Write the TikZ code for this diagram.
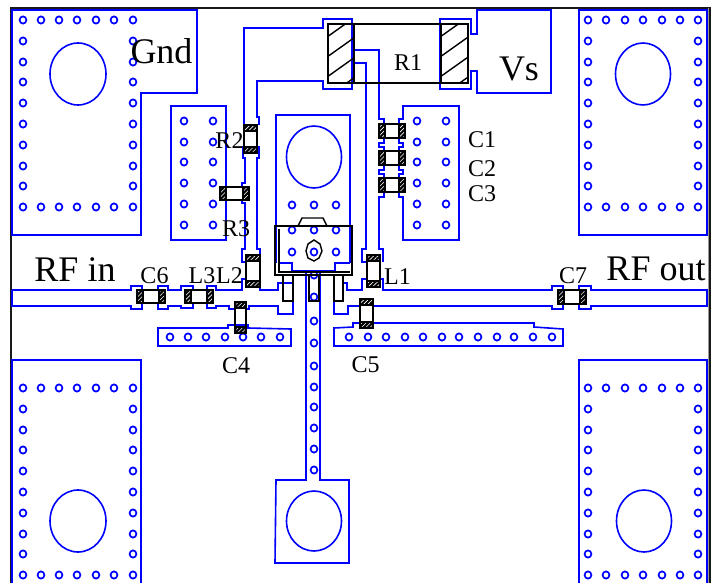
\documentclass[tikz,border=0pt]{standalone}
\usepackage{fontspec}
\setmainfont{Liberation Serif}
\usetikzlibrary{patterns.meta}
\definecolor{trace}{RGB}{0,0,255}
\tikzset{
  tr/.style={draw=trace,line width=1.6pt,line join=miter},
  via/.style={draw=trace,line width=1.7pt},
  part/.style={draw=black,line width=1.4pt},
  bigl/.style={anchor=base,inner sep=0pt,font=\fontsize{36}{36}\selectfont,text=black},
  smalll/.style={anchor=base,inner sep=0pt,font=\fontsize{24}{24}\selectfont,text=black},
}
\newcommand{\viaat}[2]{\draw[via] (#1,#2) ellipse [x radius=3.4,y radius=3.6];}
\newcommand{\hend}[4]{%
  \fill[black] (#1,#2) rectangle (#3,#4);
  \fill[pattern={Lines[angle=45,distance=3pt,line width=0.6pt]},pattern color=white] (#1,#2) rectangle (#3,#4);
  \draw[part] (#1,#2) rectangle (#3,#4);}
\newcommand{\capH}[4]{% horizontal chip, ends 6px
  \draw[part] (#1,#2) rectangle (#3,#4);
  \hend{#1}{#2}{\fpeval{#1+6}}{#4}
  \hend{\fpeval{#3-6}}{#2}{#3}{#4}}
\newcommand{\capV}[4]{% vertical chip, ends 6px
  \draw[part] (#1,#2) rectangle (#3,#4);
  \hend{#1}{#2}{#3}{\fpeval{#2+6}}
  \hend{#1}{\fpeval{#4-6}}{#3}{#4}}
\newcommand{\padvias}[3]{%
  \foreach \vx in {#1} {\viaat{\vx}{#2}\viaat{\vx}{#3}}}
\begin{document}
\begin{tikzpicture}[x=1pt,y=-1pt]
\useasboundingbox (0,0) rectangle (722,583);
% frame
\draw[black!90,line width=1.5pt] (11,583) -- (11,8) -- (710,8) -- (710,583);
\draw[black!40,line width=0.8pt] (708,8) -- (708,583);

% ---- corner pads
\draw[tr] (12,10) -- (197,10) -- (197,93) -- (141,93) -- (141,235) -- (12,235) -- cycle;
\draw[tr] (579,10) rectangle (707,235);
\draw[tr] (12,583) -- (12,360) -- (141,360) -- (141,583);
\draw[tr] (579,583) -- (579,360) -- (707,360) -- (707,583);
\draw[tr] (78,74) ellipse [x radius=28,y radius=31];
\draw[tr] (643,74) ellipse [x radius=27.5,y radius=31];
\draw[tr] (78,521) ellipse [x radius=28,y radius=31];
\draw[tr] (644,521) ellipse [x radius=27.5,y radius=31];
% corner pad vias
\padvias{23,41,59,77,96,114,133}{20}{207}
\padvias{588,606,625,643,662,680,698}{20}{207}
\padvias{23,41,59,77,96,114,133}{388}{575}
\padvias{588,606,625,643,662,680,698}{388}{575}
\foreach \vy in {41,62,82,103,124,145,166,186} {\viaat{23}{\vy}\viaat{133}{\vy}\viaat{588}{\vy}\viaat{698}{\vy}}
\foreach \vy in {409,430,450,471,492,513,534,554} {\viaat{23}{\vy}\viaat{133}{\vy}\viaat{588}{\vy}\viaat{698}{\vy}}

% ---- R1 feeds
\draw[tr] (244,125) -- (244,28) -- (323,28) -- (323,19) -- (352,19) -- (352,89) -- (323,89) -- (323,81) -- (257,81) -- (257,117) -- (259,117) -- (259,125);
\draw[tr] (243,146) -- (243,158) -- (245,158) -- (245,183) -- (242,183) -- (242,187);
\draw[tr] (259,146) -- (259,158) -- (257,158) -- (257,249) -- (260,249) -- (260,262);
\draw[tr] (242,200) -- (242,203) -- (245,203) -- (245,249) -- (242,249) -- (242,262) -- (246,262);
% Vs pad
\draw[tr] (440,19) -- (471,19) -- (471,34) -- (477,34) -- (477,10) -- (551,10) -- (551,93) -- (477,93) -- (477,71) -- (471,71) -- (471,89) -- (440,89) -- cycle;
% C feeds
\draw[tr] (352,50) -- (379,50) -- (379,119) -- (384,119) -- (384,124);
\draw[tr] (384,138) -- (384,143) -- (379,143) -- (379,147) -- (384,147) -- (384,150);
\draw[tr] (384,165) -- (384,170) -- (379,170) -- (379,174) -- (384,174) -- (384,178);
\draw[tr] (384,192) -- (384,197) -- (379,197) -- (379,249) -- (383,249) -- (383,262);
\draw[tr] (352,63) -- (366,63) -- (366,249) -- (362,249) -- (362,262) -- (367,262);
% C pad with notches
\draw[tr] (399,124) -- (399,119) -- (403,119) -- (403,106) -- (459,106) -- (459,240) -- (403,240) -- (403,197) -- (399,197) -- (399,192);
\draw[tr] (399,138) -- (399,143) -- (403,143) -- (403,147) -- (399,147) -- (399,150);
\draw[tr] (399,165) -- (399,170) -- (403,170) -- (403,174) -- (399,174) -- (399,178);
% left inner pad
\draw[tr] (226,187) -- (226,106) -- (171,106) -- (171,240) -- (226,240) -- (226,200);
\foreach \vy in {121,142,162,183,204,225} {\viaat{184}{\vy}\viaat{213}{\vy}\viaat{417}{\vy}\viaat{446}{\vy}}

% ---- centre pad
\draw[tr] (276,263) -- (276,115) -- (350,115) -- (350,263);
\draw[tr] (314,157) ellipse [x radius=27.5,y radius=31];
\foreach \vy in {205,230,252} {\viaat{292}{\vy}\viaat{314}{\vy}\viaat{336}{\vy}}
\draw[tr] (278,263) -- (292,263) -- (292,271) -- (335,271) -- (335,263) -- (350,263);

% ---- RF line, left
\draw[tr] (12,290) -- (131,290) -- (131,286) -- (142,286) -- (142,290);
\draw[tr] (12,290) -- (12,306) -- (131,306) -- (131,309) -- (142,309) -- (142,303);
\draw[tr] (158,290) -- (158,286) -- (168,286) -- (168,290) -- (181,290) -- (181,286) -- (193,286) -- (193,290);
\draw[tr] (158,303) -- (158,309) -- (168,309) -- (168,306) -- (181,306) -- (181,308) -- (193,308) -- (193,303);
\draw[tr] (207,290) -- (207,286) -- (216,286) -- (216,290) -- (242,290) -- (242,279) -- (246,279);
\draw[tr] (207,303) -- (207,308) -- (216,308) -- (216,306) -- (229,306) -- (229,309) -- (235,309);
\draw[tr] (246,309) -- (249,309) -- (249,306) -- (278,306) -- (278,314) -- (293,314) -- (293,283) -- (283,283) -- (278,283) -- (278,290) -- (260,290) -- (260,279);
% ---- RF line, right
\draw[tr] (334,275) -- (334,314) -- (348,314) -- (348,306) -- (360,306);
\draw[tr] (373,306) -- (552,306) -- (552,309) -- (563,309) -- (563,304);
\draw[tr] (343,283) -- (347,283) -- (347,290) -- (362,290) -- (362,279) -- (367,279);
\draw[tr] (380,279) -- (383,279) -- (383,290) -- (552,290) -- (552,286) -- (563,286) -- (563,290);
\draw[tr] (579,290) -- (579,286) -- (591,286) -- (591,290) -- (707,290) -- (707,306) -- (591,306) -- (591,309) -- (579,309) -- (579,304);

% ---- C4, C5 stub pads
\draw[tr] (158,328) -- (228,328) -- (228,325) -- (248,325) -- (248,328) -- (291,329) -- (291,346) -- (158,346) -- cycle;
\foreach \vx in {170,188,206,225,243,261,280} {\viaat{\vx}{337}}
\draw[tr] (334,328) -- (353,327) -- (353,323) -- (534,323) -- (534,327) -- (563,329) -- (563,346) -- (334,346) -- cycle;
\foreach \vx in {349,368,386,405,423,442,459,478,497,514,533,552} {\viaat{\vx}{337}}

% ---- bottom stem and pad
\draw[tr] (306,272) -- (306,480) -- (276,480) -- (275,563) -- (349,563) -- (349,480) -- (320,480) -- (320,272);
\draw[tr] (314,521) ellipse [x radius=27.5,y radius=30];
\foreach \vy in {275,297,321,343,366,387,407,428,449,470} {\viaat{314}{\vy}}

% ---- R1
\begin{scope}
\clip (328,24) rectangle (354,83);
\foreach \k in {0,...,6} {\draw[part] (320,{42+\k*20}) -- (365,{10+\k*20});}
\end{scope}
\begin{scope}
\clip (441,24) rectangle (468,83);
\foreach \k in {0,...,6} {\draw[part] (433,{42+\k*20}) -- (478,{10+\k*20});}
\end{scope}
\draw[part] (328,24) rectangle (468,83);
\draw[part] (354,24) -- (354,83) (441,24) -- (441,83);

% ---- chips
\capV{244}{125}{257}{153}
\capH{220}{187}{249}{200}
\capH{379}{124}{405}{138}
\capH{379}{151}{405}{165}
\capH{379}{178}{405}{192}
\capH{137}{290}{165}{303}
\capH{185}{290}{213}{303}
\capV{246}{255}{260}{287}
\capV{235}{302}{246}{333}
\capV{360}{299}{373}{328}
\capV{367}{255}{380}{287}
\capH{558}{290}{586}{304}

% ---- transistor
\draw[black,line width=2pt] (275,226) rectangle (352,275);
\draw[black,line width=1.2pt] (279,229) -- (279,272) -- (350,272);
\draw[black,line width=1.4pt] (298,226) -- (302,218) -- (323,218) -- (327,226);
\draw[part] (283,275) -- (283,301) -- (293,301) -- (293,275);
\draw[part] (309,275) -- (309,301) -- (319,301) -- (319,275);
\draw[part] (334,275) -- (334,301) -- (343,301) -- (343,275);
\draw[part] (314,240) -- (320,244) -- (322,251) -- (319,258) -- (314,261) -- (308,258) -- (306,251) -- (308,244) -- cycle;

% ---- labels
\node[bigl] (gnd) at (161.5,63.5) {Gnd};
\node[bigl] (vs) at (519,81) {Vs};
\node[bigl] (rfin) at (75,281) {RF in};
\node[bigl] (rfout) at (656,280) {RF out};
\node[smalll] (r1) at (408,70.7) {R1};
\node[smalll] (r2) at (229.5,148) {R2};
\node[smalll] (r3) at (236,236) {R3};
\node[smalll] (c1) at (482,147.7) {C1};
\node[smalll] (c2) at (482,176) {C2};
\node[smalll] (c3) at (482,201.7) {C3};
\node[smalll] (c4) at (236,373) {C4};
\node[smalll] (c5) at (365.5,372.7) {C5};
\node[smalll] (c6) at (154.5,283.3) {C6};
\node[smalll] (c7) at (573,283.5) {C7};
\node[smalll] (l1) at (397.5,284) {L1};
\node[smalll] (l2) at (229.5,283.3) {L2};
\node[smalll] (l3) at (202,283.3) {L3};
\end{tikzpicture}
\end{document}
